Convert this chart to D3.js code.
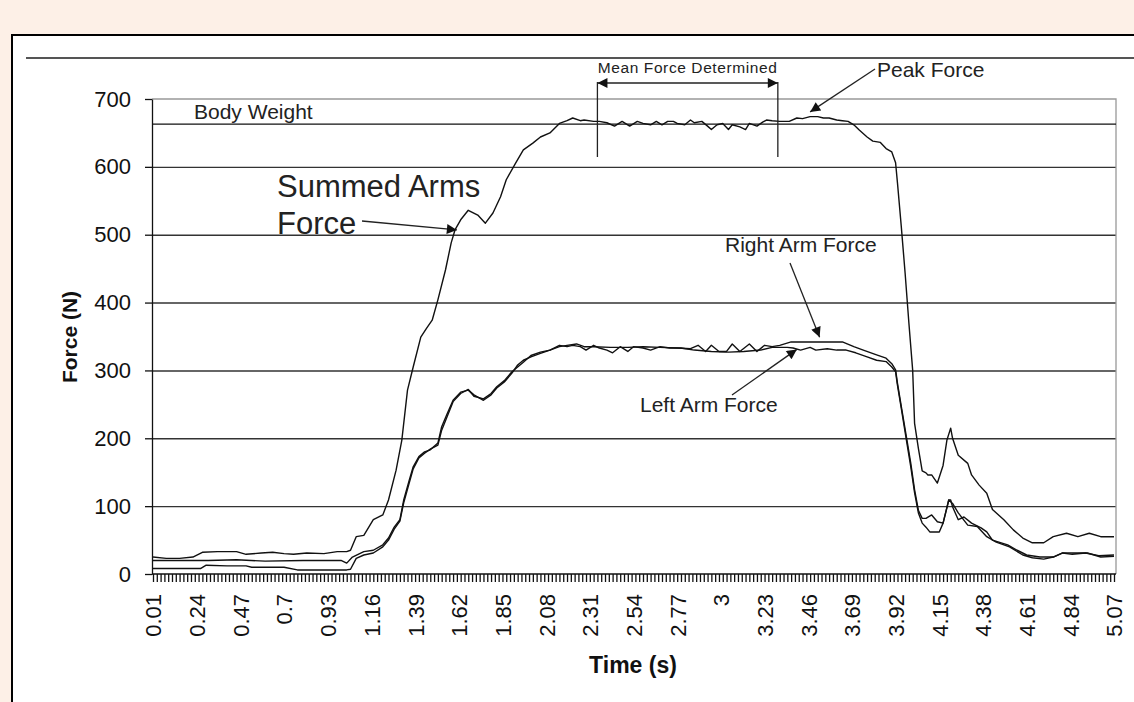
<!doctype html>
<html lang="en">
	<head>
		<meta charset="utf-8">
		<title>Force vs Time</title>
		<style type="text/css">
			body {
				margin: 0;
				background-color: #fdf0e7;
				font-family: "Liberation Sans", Arial, Helvetica, sans-serif;
			}
			svg {
				display: block;
			}
			path.line {
				fill: none;
				stroke: #111;
				stroke-width: 1.4px;
				stroke-linejoin: round;
			}
			.axis path,
			.axis line {
				fill: none;
				stroke: #111;
				stroke-width: 1.3px;
			}
			.axis text {
				font-family: "Liberation Sans", Arial, sans-serif;
				font-size: 22px;
				fill: #111;
			}
			.grid line {
				stroke: #333;
				stroke-width: 1.4px;
			}
			.grid path {
				display: none;
			}
			.note {
				font-size: 21px;
				fill: #222;
			}
			.arrow {
				stroke: #222;
				stroke-width: 1.3px;
				fill: none;
			}
			.title {
				font-weight: bold;
				fill: #111;
			}
		</style>
	</head>
	<body>
		<script type="text/javascript" src="https://cdnjs.cloudflare.com/ajax/libs/d3/7.8.5/d3.min.js"></script>
		<script type="text/javascript">
			// time labels on the category axis
			var timeLabels = [0.01, 0.24, 0.47, 0.7, 0.93, 1.16, 1.39, 1.62, 1.85, 2.08, 2.31, 2.54,
				2.77, 3, 3.23, 3.46, 3.69, 3.92, 4.15, 4.38, 4.61, 4.84, 5.07];
			var forceTicks = [0, 100, 200, 300, 400, 500, 600, 700];
			var bodyWeight = 663;
			var meanWindow = [2.35, 3.30];

			// [time (s), force (N)]
			var summedForce = [[0.01,25],[0.08,23],[0.15,23],[0.22,25],[0.27,32],[0.35,33],[0.45,33],[0.50,29],
				[0.58,31],[0.64,32],[0.70,30],[0.75,29],[0.82,31],[0.91,30],[0.98,33],[1.03,33],[1.05,35],
				[1.08,55],[1.12,57],[1.17,80],[1.22,87],[1.25,109],[1.29,153],[1.32,197],[1.35,271],[1.38,305],
				[1.42,349],[1.45,362],[1.48,374],[1.51,404],[1.55,448],[1.58,488],[1.60,507],[1.63,522],[1.67,536],
				[1.72,529],[1.76,517],[1.80,532],[1.84,556],[1.87,581],[1.92,606],[1.96,625],[2.01,635],[2.05,644],
				[2.10,650],[2.15,664],[2.19,668],[2.22,672],[2.26,668],[2.28,669],[2.33,667],[2.36,667],[2.40,665],
				[2.44,660],[2.48,667],[2.52,660],[2.56,667],[2.59,664],[2.63,662],[2.66,667],[2.69,662],[2.72,667],
				[2.75,667],[2.77,664],[2.81,662],[2.84,669],[2.86,665],[2.90,667],[2.93,660],[2.95,655],[2.98,662],
				[3.01,664],[3.04,655],[3.06,662],[3.10,659],[3.13,655],[3.15,664],[3.19,660],[3.22,666],[3.24,669],
				[3.27,668],[3.31,667],[3.36,667],[3.40,672],[3.43,671],[3.47,674],[3.51,674],[3.54,672],[3.57,672],
				[3.61,669],[3.64,668],[3.67,667],[3.70,662],[3.73,654],[3.77,644],[3.80,638],[3.84,636],[3.87,627],
				[3.90,622],[3.92,606],[3.93,576],[3.95,512],[3.97,444],[3.99,370],[4.01,300],[4.02,222],[4.04,185],
				[4.06,152],[4.08,149],[4.09,146],[4.11,146],[4.14,134],[4.17,160],[4.19,197],[4.21,215],[4.22,200],
				[4.25,175],[4.30,163],[4.32,146],[4.36,131],[4.40,119],[4.43,95],[4.49,80],[4.54,65],[4.59,53],
				[4.64,46],[4.70,46],[4.75,55],[4.82,60],[4.88,55],[4.94,60],[5.00,55],[5.07,55]];

			var rightArm = [[0.01,20],[0.30,20],[0.45,21],[0.60,19],[0.80,20],[1.00,20],[1.03,16],[1.06,25],
				[1.12,33],[1.17,35],[1.22,43],[1.25,53],[1.28,69],[1.31,80],[1.33,109],[1.36,139],[1.38,158],
				[1.41,173],[1.44,180],[1.47,183],[1.51,193],[1.53,217],[1.56,237],[1.59,256],[1.63,268],[1.67,271],
				[1.70,264],[1.75,256],[1.79,264],[1.82,274],[1.86,283],[1.90,296],[1.93,308],[1.96,315],[2.00,320],
				[2.05,325],[2.10,330],[2.15,335],[2.19,337],[2.24,339],[2.28,335],[2.33,335],[2.42,334],[2.51,334],
				[2.59,335],[2.68,334],[2.77,333],[2.84,332],[2.88,337],[2.92,328],[2.95,337],[2.99,328],[3.03,328],
				[3.06,339],[3.10,328],[3.15,339],[3.19,328],[3.23,337],[3.27,335],[3.31,337],[3.37,342],[3.45,342],
				[3.52,342],[3.59,342],[3.64,342],[3.70,335],[3.75,330],[3.82,323],[3.87,318],[3.90,310],[3.92,301],
				[3.93,281],[3.95,247],[3.98,197],[4.00,163],[4.02,124],[4.04,94],[4.06,82],[4.08,82],[4.11,87],
				[4.14,77],[4.17,75],[4.20,109],[4.21,109],[4.22,99],[4.25,80],[4.28,84],[4.32,75],[4.37,68],
				[4.40,62],[4.43,50],[4.51,43],[4.56,35],[4.61,28],[4.68,25],[4.75,25],[4.80,31],[4.85,29],
				[4.92,31],[4.99,27],[5.07,28]];

			var leftArm = [[0.01,8],[0.15,8],[0.26,8],[0.29,13],[0.40,12],[0.50,12],[0.53,10],[0.70,10],[0.77,6],
				[0.90,6],[1.03,6],[1.05,7],[1.08,23],[1.12,28],[1.17,31],[1.22,40],[1.25,50],[1.28,66],[1.31,78],
				[1.33,105],[1.36,135],[1.38,155],[1.41,171],[1.44,178],[1.47,184],[1.51,190],[1.53,212],[1.56,233],
				[1.59,254],[1.63,266],[1.67,272],[1.70,262],[1.75,258],[1.79,266],[1.82,276],[1.86,285],[1.90,298],
				[1.93,305],[1.96,312],[2.00,322],[2.05,327],[2.10,330],[2.15,337],[2.19,335],[2.22,337],[2.26,335],
				[2.29,330],[2.33,337],[2.36,333],[2.40,330],[2.43,326],[2.47,335],[2.51,328],[2.54,335],[2.59,333],
				[2.63,330],[2.68,335],[2.73,333],[2.79,333],[2.86,330],[2.95,328],[3.04,327],[3.12,328],[3.21,330],
				[3.27,334],[3.35,334],[3.38,333],[3.42,330],[3.47,334],[3.50,330],[3.56,332],[3.61,330],[3.66,330],
				[3.71,326],[3.77,320],[3.82,315],[3.87,313],[3.90,305],[3.92,298],[3.93,278],[3.95,244],[3.98,192],
				[4.00,158],[4.02,120],[4.04,90],[4.06,75],[4.08,69],[4.10,62],[4.15,62],[4.17,75],[4.20,109],
				[4.22,104],[4.25,90],[4.30,72],[4.35,70],[4.40,55],[4.45,47],[4.52,40],[4.59,28],[4.64,24],
				[4.70,22],[4.75,25],[4.80,31],[4.86,31],[4.93,31],[5.00,25],[5.07,26]];

			var fullwidth = 1134;
			var fullheight = 702;
			var plot = { left: 152, right: 1116, top: 99, bottom: 574 };

			var xScale = d3.scaleLinear()
				.domain([0.01, 5.07])
				.range([153, 1114]);
			var yScale = d3.scaleLinear()
				.domain([0, 700])
				.range([plot.bottom, plot.top]);

			var svg = d3.select("body")
				.append("svg")
				.attr("width", fullwidth)
				.attr("height", fullheight);

			var defs = svg.append("defs");
			defs.append("marker")
				.attr("id", "head")
				.attr("viewBox", "0 0 10 10")
				.attr("refX", 10)
				.attr("refY", 5)
				.attr("markerUnits", "userSpaceOnUse")
				.attr("markerWidth", 12)
				.attr("markerHeight", 10)
				.attr("orient", "auto-start-reverse")
				.append("path")
				.attr("d", "M0,0L10,5L0,10z")
				.attr("fill", "#111");

			// page and frame
			svg.append("rect")
				.attr("width", fullwidth)
				.attr("height", fullheight)
				.attr("fill", "#fdf0e7");
			svg.append("rect")
				.attr("x", 12)
				.attr("y", 35)
				.attr("width", fullwidth)
				.attr("height", fullheight)
				.attr("fill", "white")
				.attr("stroke", "#000")
				.attr("stroke-width", 2);
			svg.append("line")
				.attr("x1", 26).attr("x2", fullwidth)
				.attr("y1", 58).attr("y2", 58)
				.attr("stroke", "#555")
				.attr("stroke-width", 2);

			// grid
			svg.append("g")
				.attr("class", "grid")
				.attr("transform", "translate(" + plot.left + ",0)")
				.call(d3.axisLeft(yScale)
					.tickValues(forceTicks.slice(1, 7))
					.tickSize(-(plot.right - plot.left))
					.tickFormat(""));
			// plot border top / right
			svg.append("path")
				.attr("d", "M" + plot.left + "," + yScale(700) + "H" + plot.right + "V" + plot.bottom)
				.attr("fill", "none")
				.attr("stroke", "#999")
				.attr("stroke-width", 1.3);

			// body weight
			svg.append("line")
				.attr("x1", plot.left).attr("x2", plot.right)
				.attr("y1", yScale(bodyWeight)).attr("y2", yScale(bodyWeight))
				.attr("stroke", "#111")
				.attr("stroke-width", 1.3);

			// y axis
			svg.append("g")
				.attr("class", "y axis")
				.attr("transform", "translate(" + plot.left + ",0)")
				.call(d3.axisLeft(yScale)
					.tickValues(forceTicks)
					.tickSize(7)
					.tickPadding(14)
					.tickSizeOuter(0));

			// x axis: dense category ticks, then labels
			var minorTicks = d3.range(0.01, 5.075, 0.02);
			var xAxis = svg.append("g")
				.attr("class", "x axis")
				.attr("transform", "translate(0," + plot.bottom + ")");
			xAxis.call(d3.axisBottom(xScale)
					.tickValues(minorTicks)
					.tickSize(8)
					.tickFormat("")
					.tickSizeOuter(0));
			xAxis.select(".domain").attr("d", "M" + plot.left + ",0H" + plot.right);
			xAxis.selectAll(".tick line").attr("stroke-width", 1.7);

			var xLabels = svg.append("g")
				.attr("class", "x axis")
				.attr("transform", "translate(0," + plot.bottom + ")")
				.call(d3.axisBottom(xScale)
					.tickValues(timeLabels)
					.tickSize(0)
					.tickFormat(function(d) { return String(d); }));
			xLabels.select(".domain").remove();
			xLabels.selectAll("text")
				.attr("transform", "rotate(-90)")
				.attr("text-anchor", "end")
				.attr("x", -20)
				.attr("y", 0)
				.attr("dy", "0.36em");

			// lines
			var line = d3.line()
				.x(function(d) { return xScale(d[0]); })
				.y(function(d) { return yScale(d[1]); });

			svg.selectAll("path.line")
				.data([summedForce, rightArm, leftArm])
				.enter()
				.append("path")
				.attr("class", "line")
				.attr("d", line);

			// axis titles
			svg.append("text")
				.attr("class", "title")
				.attr("transform", "translate(77," + 337 + ") rotate(-90)")
				.attr("text-anchor", "middle")
				.style("font-size", "21px")
				.text("Force (N)");
			svg.append("text")
				.attr("class", "title")
				.attr("x", 633)
				.attr("y", 673)
				.attr("text-anchor", "middle")
				.style("font-size", "23px")
				.text("Time (s)");

			// annotations
			svg.append("text").attr("class", "note")
				.attr("x", 194).attr("y", 119)
				.text("Body Weight");

			svg.append("text").attr("class", "note")
				.attr("x", 277).attr("y", 197)
				.style("font-size", "31px")
				.text("Summed Arms");
			svg.append("text").attr("class", "note")
				.attr("x", 277).attr("y", 234)
				.style("font-size", "31px")
				.text("Force");
			svg.append("line").attr("class", "arrow")
				.attr("x1", 362).attr("y1", 221)
				.attr("x2", xScale(1.61)).attr("y2", yScale(507))
				.attr("marker-end", "url(#head)");

			svg.append("text").attr("class", "note")
				.attr("x", 877).attr("y", 77)
				.text("Peak Force");
			svg.append("line").attr("class", "arrow")
				.attr("x1", 875).attr("y1", 69)
				.attr("x2", xScale(3.47)).attr("y2", yScale(681))
				.attr("marker-end", "url(#head)");

			svg.append("text").attr("class", "note")
				.attr("x", 725).attr("y", 252)
				.text("Right Arm Force");
			svg.append("line").attr("class", "arrow")
				.attr("x1", 790).attr("y1", 263)
				.attr("x2", xScale(3.52)).attr("y2", yScale(349))
				.attr("marker-end", "url(#head)");

			svg.append("text").attr("class", "note")
				.attr("x", 640).attr("y", 412)
				.text("Left Arm Force");
			svg.append("line").attr("class", "arrow")
				.attr("x1", 732).attr("y1", 395)
				.attr("x2", xScale(3.40)).attr("y2", yScale(331))
				.attr("marker-end", "url(#head)");

			// mean force window
			var meanG = svg.append("g");
			meanG.selectAll("line.win")
				.data(meanWindow)
				.enter()
				.append("line")
				.attr("class", "arrow")
				.attr("x1", function(d) { return xScale(d); })
				.attr("x2", function(d) { return xScale(d); })
				.attr("y1", 82)
				.attr("y2", 157);
			meanG.append("line").attr("class", "arrow")
				.attr("x1", xScale(meanWindow[0])).attr("x2", xScale(meanWindow[1]))
				.attr("y1", 83).attr("y2", 83)
				.attr("marker-start", "url(#head)")
				.attr("marker-end", "url(#head)");
			meanG.append("text").attr("class", "note")
				.attr("x", (xScale(meanWindow[0]) + xScale(meanWindow[1])) / 2)
				.attr("y", 73)
				.attr("text-anchor", "middle")
				.style("font-size", "15.5px")
				.style("letter-spacing", "0.6px")
				.text("Mean Force Determined");
		</script>
	</body>
</html>
